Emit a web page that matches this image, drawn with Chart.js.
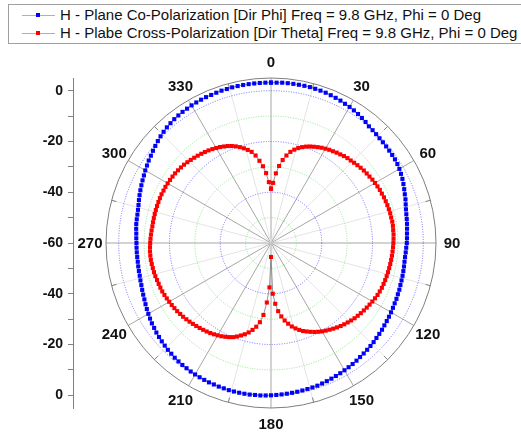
<!DOCTYPE html>
<html>
<head>
<meta charset="utf-8">
<script src="https://cdn.jsdelivr.net/npm/chart.js@4.4.0/dist/chart.umd.min.js"></script>
<style>
  body { margin: 0; background: #fff; }
  #wrap { position: relative; width: 521px; height: 432px; overflow: hidden; }
  #chartBox { position: absolute; left: 0; top: 0; width: 521px; height: 432px; }
  #legend { position: absolute; left: 8px; top: 4px; width: 540px; height: 38px; border: 1px solid #a0a0a0;
    font: 15px "Liberation Sans", Arial, sans-serif; color: #111; background: #fff; }
  .row { position: absolute; left: 0; height: 18px; line-height: 18px; white-space: nowrap; }
  .sym { position: absolute; left: 13px; top: 9px; width: 33px; height: 1px; background: #b0b0b0; }
  .sym span { position: absolute; left: 14px; top: -2px; width: 4px; height: 4px; }
  .txt { position: absolute; left: 51px; top: 0; }
</style>
</head>
<body>
<div id="wrap">
  <div id="chartBox"><canvas id="myChart"></canvas></div>
  <div id="legend"></div>
</div>
<script>
const seriesNames = [
  'H - Plane Co-Polarization [Dir Phi] Freq = 9.8 GHz, Phi = 0 Deg',
  'H - Plabe Cross-Polarization [Dir Theta] Freq = 9.8 GHz, Phi = 0 Deg'
];
const seriesColors = ['#0000ff', '#ff0000'];

// angle in degrees, 2 deg step
const angles = Array.from({ length: 180 }, (_, i) => i * 2);

const coPol = [
  3.2, 3.2, 3.3, 3.3, 3.3, 3.3, 3.3, 3.3, 3.2, 3.1,
  3.0, 2.8, 2.6, 2.4, 2.1, 1.9, 1.6, 1.3, 0.9, 0.5,
  0.0, -0.2, -0.4, -0.6, -0.7, -0.8, -0.9, -1.0, -1.1, -1.3,
  -1.6, -2.0, -2.4, -2.9, -3.4, -3.9, -4.3, -4.8, -5.2, -5.5,
  -5.7, -5.9, -6.1, -6.3, -6.4, -6.5, -6.7, -6.8, -6.9, -6.9,
  -6.8, -6.7, -6.6, -6.5, -6.4, -6.2, -6.1, -5.9, -5.8, -5.6,
  -5.4, -5.2, -5.0, -4.8, -4.5, -4.3, -4.1, -3.8, -3.6, -3.4,
  -3.2, -3.0, -2.7, -2.5, -2.3, -2.1, -1.9, -1.7, -1.5, -1.3,
  -1.1, -0.9, -0.8, -0.7, -0.6, -0.5, -0.4, -0.3, -0.2, -0.1,
  0.0, 0.1, 0.2, 0.2, 0.3, 0.3, 0.3, 0.3, 0.3, 0.2,
  0.2, 0.1, 0.1, 0.0, -0.1, -0.2, -0.3, -0.5, -0.6, -0.8,
  -1.0, -1.3, -1.5, -1.8, -2.1, -2.4, -2.7, -3.1, -3.4, -3.8,
  -4.2, -4.6, -5.0, -5.4, -5.7, -6.0, -6.3, -6.5, -6.7, -6.8,
  -6.9, -7.0, -7.0, -7.0, -7.0, -7.0, -6.9, -6.8, -6.6, -6.4,
  -6.3, -6.2, -6.0, -5.7, -5.3, -4.9, -4.5, -4.1, -3.7, -3.3,
  -2.8, -2.4, -1.9, -1.5, -1.0, -0.5, 0.0, 0.5, 0.9, 1.3,
  1.6, 1.9, 2.1, 2.3, 2.4, 2.6, 2.7, 2.8, 2.9, 2.9,
  3.0, 3.1, 3.1, 3.2, 3.2, 3.2, 3.2, 3.2, 3.2, 3.2
];

const crossPol = [
  -38.6, -36.3, -32.5, -29.5, -27.0, -25.0, -23.3, -22.1, -21.1, -20.3,
  -19.6, -19.0, -18.5, -18.0, -17.5, -17.1, -16.7, -16.4, -16.0, -15.7,
  -15.3, -15.0, -14.8, -14.5, -14.2, -13.9, -13.6, -13.4, -13.2, -12.9,
  -12.7, -12.5, -12.3, -12.2, -12.0, -11.9, -11.8, -11.7, -11.6, -11.6,
  -11.5, -11.5, -11.6, -11.6, -11.7, -11.8, -11.9, -12.0, -12.1, -12.2,
  -12.3, -12.4, -12.5, -12.6, -12.7, -12.8, -12.9, -13.1, -13.3, -13.6,
  -13.9, -14.2, -14.5, -14.8, -15.1, -15.4, -15.7, -16.1, -16.5, -16.9,
  -17.3, -17.8, -18.3, -18.8, -19.3, -19.8, -20.4, -21.0, -21.7, -22.4,
  -23.1, -24.0, -25.0, -26.1, -27.5, -29.0, -30.8, -33.0, -36.0, -40.0,
  -54.5, -42.5, -36.5, -31.5, -28.5, -26.5, -25.0, -23.7, -22.6, -21.7,
  -20.8, -20.0, -19.4, -18.9, -18.4, -18.0, -17.6, -17.2, -16.9, -16.6,
  -16.3, -16.0, -15.7, -15.4, -15.1, -14.8, -14.6, -14.3, -14.1, -13.9,
  -13.7, -13.5, -13.3, -13.1, -13.0, -12.9, -12.8, -12.6, -12.5, -12.4,
  -12.3, -12.2, -12.2, -12.2, -12.3, -12.4, -12.5, -12.6, -12.7, -12.8,
  -12.8, -12.8, -12.8, -12.8, -12.8, -12.8, -12.8, -12.8, -12.9, -12.9,
  -13.0, -13.1, -13.2, -13.3, -13.5, -13.7, -13.9, -14.2, -14.5, -14.8,
  -15.1, -15.4, -15.7, -16.0, -16.4, -16.8, -17.2, -17.7, -18.2, -18.8,
  -19.5, -20.3, -21.2, -22.2, -23.3, -25.0, -27.3, -29.6, -32.4, -36.0
];

const dbMin = -60;
const dbMax = 5;
const ringDb = [-50, -40, -30, -20, -10, 0];
const ringColors = ['#8fe08f', '#6f6fff', '#8fe08f', '#6f6fff', '#8fe08f', '#6f6fff'];
const angleLabels = ['0', '30', '60', '90', '120', '150', '180', '210', '240', '270', '300', '330'];
const yTicks = [-60, -50, -40, -30, -20, -10, 0, 10, 20, 30, 40, 50, 60];
const labelRadius = 71.3;

function toXY(values) {
  const pts = angles.map((a, i) => {
    const t = a * Math.PI / 180;
    const r = values[i] - dbMin;
    return { x: r * Math.sin(t), y: r * Math.cos(t) };
  });
  pts.push(pts[0]);
  return pts;
}

const polarGrid = {
  id: 'polarGrid',
  beforeDatasetsDraw(chart) {
    const ctx = chart.ctx;
    const xs = chart.scales.x;
    const ys = chart.scales.y;
    const cx = xs.getPixelForValue(0);
    const cy = ys.getPixelForValue(0);
    const k = cy - ys.getPixelForValue(1);
    const rOuter = (dbMax - dbMin) * k;
    ctx.save();
    ctx.lineWidth = 1;
    // spokes, light ones every 15, darker every 30
    for (let a = 0; a < 360; a += 15) {
      const t = a * Math.PI / 180;
      ctx.beginPath();
      ctx.strokeStyle = a % 30 === 0 ? '#a6a6a6' : '#e4e4e4';
      ctx.moveTo(cx, cy);
      ctx.lineTo(cx + rOuter * Math.sin(t), cy - rOuter * Math.cos(t));
      ctx.stroke();
    }
    ctx.setLineDash([1, 1.5]);
    ringDb.forEach((db, i) => {
      ctx.beginPath();
      ctx.strokeStyle = ringColors[i];
      ctx.arc(cx, cy, (db - dbMin) * k, 0, Math.PI * 2);
      ctx.stroke();
    });
    ctx.setLineDash([]);
    ctx.strokeStyle = '#7f7f7f';
    ctx.beginPath();
    ctx.arc(cx, cy, rOuter, 0, Math.PI * 2);
    ctx.stroke();
    for (let a = 15; a < 360; a += 30) {
      const t = a * Math.PI / 180;
      ctx.beginPath();
      ctx.moveTo(cx + rOuter * Math.sin(t), cy - rOuter * Math.cos(t));
      ctx.lineTo(cx + (rOuter - 5) * Math.sin(t), cy - (rOuter - 5) * Math.cos(t));
      ctx.stroke();
    }
    ctx.fillStyle = '#111';
    ctx.font = 'bold 15px "Liberation Sans", Arial, sans-serif';
    ctx.textAlign = 'center';
    ctx.textBaseline = 'middle';
    angleLabels.forEach((lab) => {
      const t = Number(lab) * Math.PI / 180;
      const r = labelRadius * k;
      ctx.fillText(lab, cx + r * Math.sin(t), cy - r * Math.cos(t) + 1);
    });
    ctx.restore();
  }
};

function buildLegend() {
  const box = document.querySelector('#legend');
  seriesNames.forEach((name, i) => {
    const row = document.createElement('div');
    row.className = 'row';
    row.style.top = (1 + i * 18) + 'px';
    row.innerHTML = '<div class="sym"><span style="background:' + seriesColors[i] + '"></span></div>' +
      '<div class="txt"></div>';
    row.querySelector('.txt').textContent = name;
    box.appendChild(row);
  });
}

function makeDataset(i, values) {
  return {
    label: seriesNames[i],
    data: toXY(values),
    showLine: true,
    borderColor: '#7a7a7a',
    borderWidth: 0.8,
    pointStyle: 'rect',
    pointRadius: 2.9,
    pointBorderWidth: 0,
    pointBackgroundColor: seriesColors[i],
    pointHoverRadius: 2.9
  };
}

function initChart(target) {
  const config = {
    type: 'scatter',
    data: {
      datasets: [makeDataset(0, coPol), makeDataset(1, crossPol)]
    },
    options: {
      responsive: true,
      maintainAspectRatio: false,
      animation: false,
      layout: { padding: { top: 78, right: 52, bottom: 24, left: 0 } },
      plugins: { legend: { display: false }, tooltip: { enabled: false } },
      scales: {
        x: { type: 'linear', display: false, min: -78, max: 78 },
        y: {
          type: 'linear',
          min: -(dbMax - dbMin),
          max: dbMax - dbMin,
          afterBuildTicks(scale) { scale.ticks = yTicks.map((v) => ({ value: v })); },
          afterFit(scale) { scale.width = 73; },
          grid: { drawOnChartArea: false, drawTicks: true, tickLength: 5, tickColor: '#808080' },
          border: { color: '#808080', width: 1 },
          ticks: {
            autoSkip: false,
            padding: 5,
            color: '#111',
            font: { family: '"Liberation Sans", Arial, sans-serif', size: 14, weight: 'bold' },
            callback: (v) => (v % 20 === 0 ? String(dbMin + Math.abs(v)) : '')
          }
        }
      }
    },
    plugins: [polarGrid]
  };
  return new Chart(target, config);
}

buildLegend();
const chart = initChart(document.querySelector('#myChart'));
</script>
</body>
</html>
